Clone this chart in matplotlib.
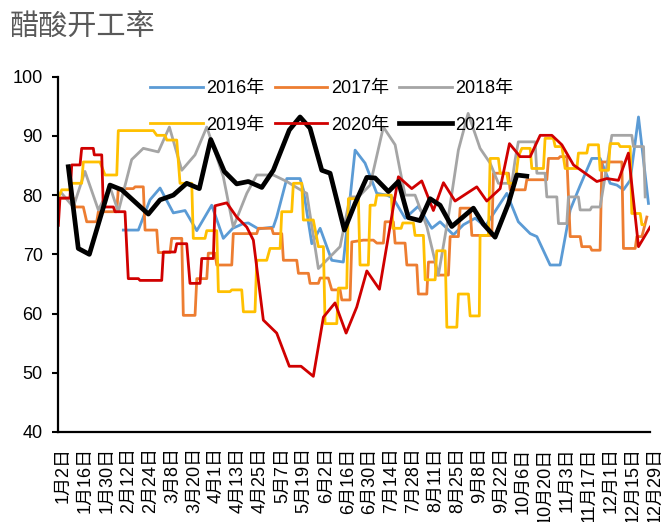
import matplotlib.pyplot as plt
from matplotlib.transforms import ScaledTranslation

plt.rcParams['font.family'] = ['Liberation Sans', 'Noto Sans CJK SC']

# x axis: weeks counted from 1月2日, labels every 2 weeks
labels = ['1月2日', '1月16日', '1月30日', '2月12日', '2月24日', '3月8日', '3月20日',
          '4月1日', '4月13日', '4月25日', '5月7日', '5月19日', '6月2日', '6月16日',
          '6月30日', '7月14日', '7月28日', '8月11日', '8月25日', '9月8日', '9月22日',
          '10月6日', '10月20日', '11月3日', '11月17日', '12月1日', '12月15日', '12月29日']

w2016 = [5.96, 7.33, 8.39, 9.31, 10.52, 11.59, 12.66, 14.02, 15.08, 15.94, 16.91, 17.36,
         18.28, 19.64, 19.95, 20.87, 22.08, 22.38, 23.15, 23.91, 24.97, 26.03, 27.10, 28.01,
         29.08, 29.99, 30.57, 31.66, 32.85, 34.10, 34.85, 36.07, 36.98, 38.05, 38.96, 40.94,
         41.99, 43.07, 43.68, 44.89, 45.80, 46.72, 47.6, 48.69, 49.45, 50.36, 50.98, 51.58,
         52.19, 52.95, 53.86]
v2016 = [74.1, 74.1, 79.2, 81.2, 77.0, 77.4, 74.0, 78.3, 72.7, 74.4, 75.2, 75.3,
         74.3, 74.6, 76.3, 82.8, 82.8, 80.9, 71.8, 74.4, 69.0, 68.7, 87.6, 85.4,
         80.3, 80.0, 79.5, 76.1, 78.1, 74.4, 75.5, 73.3, 75.0, 76.1, 74.7, 80.3,
         75.5, 73.5, 73.0, 68.2, 68.2, 77.5, 81.5, 86.2, 86.2, 82.0, 81.7, 80.9,
         82.5, 93.2, 78.6]

w2017 = [0.34, 1.40, 1.55, 2.31, 2.62, 3.53, 3.68, 5.36, 5.50, 6.87, 7.03, 7.78, 7.94, 9.01,
         9.15, 10.22, 10.37, 11.29, 11.43, 12.50, 12.66, 13.57, 13.71, 14.32, 14.48, 15.85,
         15.99, 18.13, 18.28, 19.50, 19.64, 20.41, 20.56, 21.78, 21.93, 22.84, 22.99, 23.75,
         23.91, 24.66, 24.97, 25.73, 25.89, 26.64, 26.80, 27.86, 28.77, 29.08, 29.68, 29.84,
         30.59, 30.75, 31.66, 31.82, 32.73, 32.87, 33.64, 33.79, 34.40, 34.55, 35.61, 35.77,
         36.52, 36.68, 37.59, 37.75, 39.57, 39.72, 41.09, 41.24, 42.61, 42.76, 44.59, 44.74,
         45.65, 45.80, 46.41, 46.72, 47.63, 47.78, 48.54, 48.69, 49.45, 49.61, 51.43, 51.58,
         52.65, 52.80, 53.26, 53.71]
v2017 = [79.5, 79.5, 78.0, 78.0, 75.5, 75.5, 77.2, 77.2, 81.1, 81.1, 81.4, 81.4, 74.1, 74.1,
         70.3, 70.3, 72.7, 72.7, 59.7, 59.7, 65.9, 65.9, 70.2, 70.2, 68.2, 68.2,
         73.5, 73.5, 74.4, 74.4, 73.5, 73.5, 69.0, 69.0, 66.8, 66.8, 65.1, 65.1,
         66.0, 66.0, 64.0, 64.0, 62.3, 62.3, 72.1, 72.4, 72.4, 71.9, 71.9, 75.5,
         75.5, 71.9, 71.9, 68.2, 68.2, 63.3, 63.3, 68.7, 68.7, 66.5, 66.5, 73.0,
         73.0, 77.8, 77.8, 73.2, 73.2, 83.7, 83.7, 80.9, 80.9, 82.6, 82.6, 86.2,
         86.2, 86.5, 86.5, 73.0, 73.0, 71.3, 71.3, 70.7, 70.7, 85.6, 85.6, 71.0,
         71.0, 73.0, 73.0, 76.3]

w2018 = [0.34, 1.40, 2.46, 3.68, 4.74, 5.50, 6.72, 7.78, 9.15, 10.16, 11.29, 12.50, 13.57,
         15.08, 15.99, 17.22, 18.13, 19.64, 20.87, 21.93, 22.69, 23.75, 25.73, 26.64, 27.40,
         28.47, 29.68, 30.75, 31.20, 31.66, 32.57, 33.64, 34.70, 35.61, 36.52, 37.41, 38.50,
         39.42, 40.17, 41.39, 41.70, 41.99, 43.52, 43.68, 44.43, 44.59, 45.50, 45.65, 46.41,
         46.56, 47.47, 47.63, 48.54, 48.69, 49.45, 50.52, 52.34, 52.49, 53.41, 53.56]
v2018 = [80.3, 78.0, 84.0, 77.5, 81.4, 77.2, 86.0, 87.9, 87.3, 91.5, 84.2, 86.8, 91.5,
         83.1, 74.6, 80.3, 83.4, 83.4, 82.3, 81.1, 80.3, 67.6, 71.3, 79.7, 79.7,
         81.7, 91.5, 88.5, 84.2, 80.0, 80.0, 74.7, 66.5, 76.4, 87.6, 93.8, 87.9,
         85.4, 82.0, 82.0, 86.0, 89.0, 89.0, 83.7, 83.7, 79.7, 79.7, 75.2, 75.2,
         79.7, 79.7, 77.5, 77.5, 78.0, 78.0, 90.1, 90.1, 88.2, 88.2, 79.7]

w2019 = [0.03, 0.34, 1.09, 1.25, 2.16, 2.31, 3.83, 4.29, 5.36, 5.50, 8.70, 9.01, 9.76, 9.92,
         10.83, 11.13, 12.20, 12.34, 13.41, 13.57, 14.48, 14.63, 15.69, 15.85, 16.76, 16.91,
         17.97, 18.13, 19.04, 19.34, 20.26, 20.41, 21.32, 21.47, 22.24, 22.38, 23.29, 23.75,
         24.21, 24.36, 25.43, 25.58, 26.34, 26.49, 27.40, 27.55, 28.31, 28.47, 28.92, 29.08,
         30.41, 30.55, 31.30, 31.45, 32.42, 32.57, 33.33, 33.49, 34.40, 34.55, 35.31, 35.47,
         36.38, 36.52, 37.44, 37.59, 38.43, 38.50, 39.26, 39.42, 40.17, 40.33, 40.94, 41.09,
         41.70, 41.99, 42.31, 43.07, 43.22, 44.28, 44.43, 45.19, 45.35, 45.96, 46.26, 47.33,
         47.47, 48.24, 48.38, 49.30, 49.45, 50.21, 50.36, 51.12, 51.28, 52.19, 52.34, 53.11,
         53.26, 53.41]
v2019 = [79.5, 80.9, 80.9, 82.0, 82.0, 85.6, 85.6, 83.4, 83.4, 90.9, 90.9, 90.1, 90.1, 89.3,
         89.3, 82.0, 82.0, 72.7, 72.7, 74.0, 74.0, 63.7, 63.7, 64.0, 64.0, 60.3,
         60.3, 69.0, 69.0, 71.0, 71.0, 77.2, 77.2, 82.0, 82.0, 75.8, 75.8, 71.3,
         71.3, 58.3, 58.3, 64.3, 64.3, 79.4, 79.4, 68.2, 68.2, 78.3, 78.3, 80.0,
         80.0, 74.4, 74.4, 75.3, 75.3, 73.2, 73.2, 65.7, 65.7, 70.6, 70.6, 57.7,
         57.7, 63.3, 63.3, 59.6, 59.6, 73.2, 73.2, 86.2, 86.2, 83.7, 83.7, 82.0,
         82.0, 86.5, 87.9, 87.9, 84.5, 84.5, 89.6, 89.6, 88.2, 88.2, 84.5, 84.5,
         87.1, 87.1, 88.5, 88.5, 84.2, 84.2, 88.7, 88.7, 88.2, 88.2, 76.9, 76.9,
         75.0, 75.0]

w2020 = [0.03, 0.18, 1.09, 1.25, 2.01, 2.16, 3.22, 3.31, 3.99, 4.13, 5.05, 5.20, 6.11, 6.41,
         7.33, 7.48, 9.46, 9.61, 10.68, 10.83, 11.74, 12.04, 12.96, 13.11, 14.17, 14.32,
         15.39, 16.30, 17.22, 17.82, 18.73, 19.95, 21.10, 22.17, 23.29, 24.21, 25.27, 26.28,
         27.25, 28.17, 29.32, 31.05, 32.27, 33.18, 34.24, 35.16, 36.22, 37.29, 38.20, 39.11,
         40.33, 41.18, 42.15, 43.07, 43.98, 45.05, 45.96, 47.02, 49.15, 50.06, 51.12, 52.03,
         52.95, 54.01]
v2020 = [74.9, 79.5, 79.5, 85.1, 85.1, 87.9, 87.9, 86.8, 86.8, 78.0, 78.0, 77.2, 77.2, 65.9,
         65.9, 65.6, 65.6, 70.4, 70.4, 71.8, 71.8, 65.1, 65.1, 69.3, 69.3, 78.2,
         78.7, 76.3, 74.6, 72.4, 58.9, 56.7, 51.1, 51.1, 49.4, 59.4, 61.8, 56.7,
         61.1, 67.2, 64.1, 83.1, 81.1, 82.4, 77.4, 82.1, 79.0, 80.3, 81.4, 79.0,
         81.1, 88.7, 86.5, 86.5, 90.1, 90.1, 88.5, 85.1, 82.3, 82.8, 82.5, 87.1,
         71.3, 74.6]

w2021 = [0.94, 1.85, 2.86, 4.74, 5.81, 8.24, 9.31, 10.52, 11.74, 12.89, 13.93, 15.17, 16.30,
         17.36, 18.59, 19.64, 21.10, 22.08, 22.99, 24.06, 24.82, 26.12, 27.10, 28.17, 28.92,
         30.14, 31.05, 31.96, 33.03, 33.94, 34.85, 35.92, 37.89, 38.80, 39.87, 41.09, 41.85,
         42.76]
v2021 = [84.8, 71.0, 70.0, 81.7, 80.9, 76.8, 79.2, 80.0, 82.0, 81.1, 89.4, 84.0, 81.9,
         82.3, 81.3, 84.2, 91.0, 93.2, 91.3, 84.2, 83.7, 74.1, 78.6, 83.0, 82.9,
         80.6, 82.3, 76.2, 75.7, 79.4, 78.3, 74.7, 77.8, 75.1, 72.9, 78.6, 83.4,
         83.2]

fig = plt.figure(figsize=(6.64, 5.22), dpi=100)
ax = fig.add_axes([58 / 664, 1 - 432 / 522, 592 / 664, (432 - 76.7) / 522])

l16, = ax.plot(w2016, v2016, color='#5B9BD5', lw=2.0, label='2016年')
l17, = ax.plot(w2017, v2017, color='#ED7D31', lw=2.0, label='2017年')
l18, = ax.plot(w2018, v2018, color='#A5A5A5', lw=2.0, label='2018年')
l19, = ax.plot(w2019, v2019, color='#FFC000', lw=2.0, label='2019年')
l20, = ax.plot(w2020, v2020, color='#D00000', lw=2.0, label='2020年')
l21, = ax.plot(w2021, v2021, color='black', lw=3.4, label='2021年')

ax.set_xlim(0, 54)
ax.set_ylim(40, 100)
ax.set_yticks(range(40, 101, 10))
ax.set_xticks(range(0, 55, 2))
ax.set_xticklabels(labels, rotation=90)

for s in ['top', 'right']:
    ax.spines[s].set_visible(False)
for s in ['left', 'bottom']:
    ax.spines[s].set_linewidth(1.6)
ax.tick_params(axis='y', direction='out', length=4, width=1.5, labelsize=13, pad=7)
ax.tick_params(axis='x', length=0, labelsize=13, pad=11)

offset = ScaledTranslation(0.05, 0, fig.dpi_scale_trans)
for lab in ax.get_xticklabels():
    lab.set_transform(lab.get_transform() + offset)

# legend: fill row by row (2016, 2017, 2018 / 2019, 2020, 2021)
handles = [l16, l19, l17, l20, l18, l21]
ax.legend(handles=handles, labels=[h.get_label() for h in handles], ncol=3,
          loc='upper left', bbox_to_anchor=(143 / 664, 1 - 73 / 522),
          bbox_transform=fig.transFigure, frameon=False, fontsize=13,
          borderaxespad=0, handlelength=2.9, handletextpad=0.22,
          columnspacing=0.55, labelspacing=1.08)

fig.text(10 / 664, 1 - 27 / 522, '醋酸开工率', fontsize=21, color='#595959',
         va='center', ha='left', family=['Noto Sans CJK SC'])

fig.savefig('out.png', dpi=100)
